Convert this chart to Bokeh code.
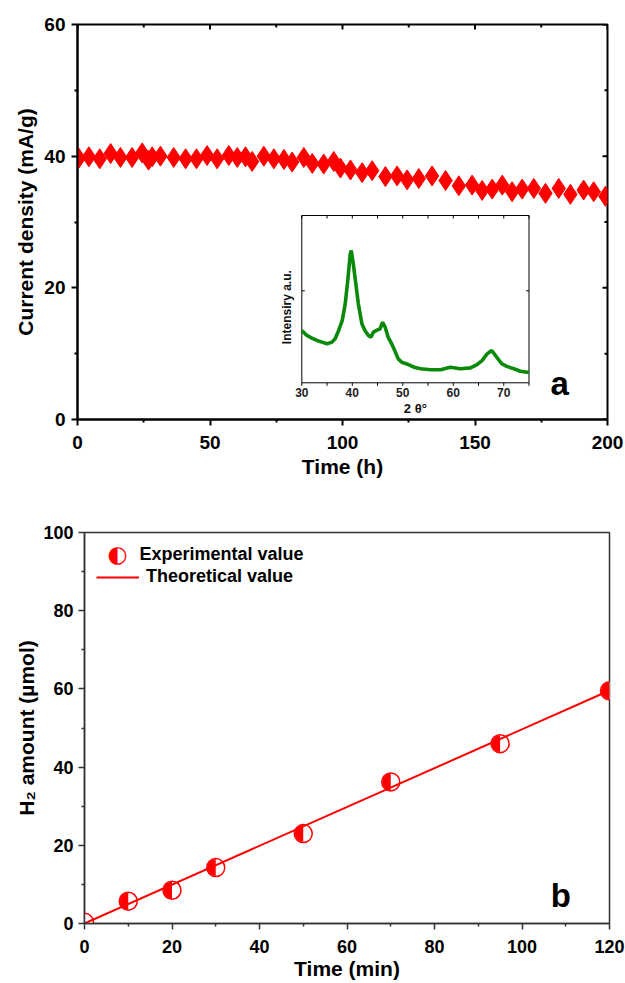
import math
from bokeh.plotting import figure
from bokeh.layouts import column, row
from bokeh.models import Range1d, FixedTicker, Label, Legend, LegendItem
from bokeh.core.properties import value
from bokeh.embed import file_html
from bokeh.resources import INLINE

FONT = "Liberation Sans"

# ---------------- panel a : stability test ----------------
time_h = [0.5, 4.3, 8.4, 12.5, 16.2, 20.6, 24.4, 26.8, 28.2, 31.3, 36.3, 40.8, 44.9,
          48.9, 52.7, 57.1, 60.3, 63.4, 65.9, 70.3, 74.1, 77.9, 81.0, 85.4, 88.6,
          92.9, 96.7, 99.2, 103.0, 107.4, 111.2, 116.2, 120.6, 124.4, 128.8, 133.8,
          138.9, 143.9, 148.9, 152.7, 156.5, 160.3, 164.0, 167.8, 172.2, 176.6,
          181.6, 186.0, 191.0, 194.8, 199.2]
current_density = [39.7, 39.9, 39.6, 40.4, 39.8, 39.8, 40.5, 39.4, 39.9, 40.0, 39.8,
                   39.6, 39.6, 40.1, 39.6, 40.1, 39.8, 39.9, 39.2, 40.0, 39.6, 39.5,
                   39.1, 39.8, 38.9, 38.8, 39.2, 38.2, 37.9, 37.5, 37.8, 36.9, 37.0,
                   36.4, 36.6, 37.0, 36.3, 35.5, 35.6, 34.8, 35.0, 35.6, 34.6, 35.0,
                   35.1, 34.35, 35.1, 34.2, 34.85, 34.6, 33.9]
a_xticks = [0, 50, 100, 150, 200]
a_xminor = [25, 75, 125, 175]
a_yticks = [0, 20, 40, 60]
a_yminor = [10, 30, 50]

# ---------------- inset : XRD pattern ----------------
two_theta = [30.0, 31.0, 32.0, 33.0, 34.0, 35.0, 36.0, 36.6, 37.3, 38.0, 38.6, 39.1,
             39.6, 39.8, 40.2, 40.7, 41.2, 41.9, 42.5, 43.2, 43.7, 44.2, 44.8, 45.5,
             46.0, 46.5, 47.1, 47.8, 48.4, 49.1, 49.8, 51.1, 52.3, 53.5, 55.5, 57.5,
             59.4, 61.4, 63.4, 64.7, 65.7, 66.7, 67.6, 68.6, 69.6, 70.6, 72.0, 73.3,
             74.6, 75.0]
intensity = [31.3, 28.3, 26.7, 25.3, 24.3, 23.3, 24.3, 26.3, 31.3, 37.2, 47.2, 61.1,
             77.1, 79.0, 71.1, 59.2, 47.2, 35.3, 31.3, 28.3, 27.3, 30.3, 31.3, 32.3,
             36.2, 33.3, 27.3, 23.3, 19.3, 14.3, 12.3, 10.9, 9.3, 8.4, 7.8, 7.8,
             9.3, 8.4, 8.9, 10.9, 13.3, 17.3, 19.3, 15.3, 11.4, 9.8, 8.4, 6.9,
             6.3, 6.5]
xrd_xlim = [30, 75]
xrd_ylim = [0, 100]
xrd_xticks = [30, 40, 50, 60, 70]
xrd_xminor = [35, 45, 55, 65, 75]
xrd_yticks = [55]

# ---------------- panel b : H2 evolution ----------------
time_min = [0, 10, 20, 30, 50, 70, 95, 120]
h2_exp = [0.3, 5.7, 8.5, 14.3, 23.0, 36.2, 46.0, 59.5]
theo_time = [0, 120]
theo_h2 = [0, 59.6]
b_xticks = [0, 20, 40, 60, 80, 100, 120]
b_xminor = [10, 30, 50, 70, 90, 110]
b_yticks = [0, 20, 40, 60, 80, 100]
b_yminor = [10, 30, 50, 70, 90]


def style_axis(ax, ticks, minor, color, lw, tick_size, label_size, standoff, lab_standoff):
    ax.ticker = FixedTicker(ticks=ticks, minor_ticks=minor)
    ax.axis_line_color = color
    ax.axis_line_width = lw
    ax.major_tick_line_color = color
    ax.major_tick_line_width = lw
    ax.minor_tick_line_color = color
    ax.minor_tick_line_width = lw
    ax.major_tick_out = 6
    ax.major_tick_in = 0
    ax.minor_tick_out = 3
    ax.minor_tick_in = 0
    ax.major_label_text_font = FONT
    ax.major_label_text_font_style = "bold"
    ax.major_label_text_font_size = tick_size
    ax.major_label_text_color = "black"
    ax.major_label_standoff = standoff
    ax.axis_label_text_font = FONT
    ax.axis_label_text_font_style = "bold"
    ax.axis_label_text_font_size = label_size
    ax.axis_label_text_color = "black"
    ax.axis_label_standoff = lab_standoff


# ================= figure a =================
FW1, FH1 = 530, 395
XR1, YR1 = (0, 200), (0, 60)
p1 = figure(width=625, height=480, x_range=Range1d(*XR1), y_range=Range1d(*YR1),
            output_backend="svg", toolbar_location=None,
            min_border_left=77, min_border_right=18, min_border_top=24, min_border_bottom=61,
            x_axis_label="Time (h)", y_axis_label="Current density (mA/g)")
p1.grid.visible = False
p1.outline_line_color = "black"
p1.outline_line_width = 2
style_axis(p1.xaxis[0], a_xticks, a_xminor, "black", 2, "19px", "21px", 10, 3)
style_axis(p1.yaxis[0], a_yticks, a_yminor, "black", 2, "19px", "21px", 6, 4)

# inward mirror ticks on the top and right frame edges
xpp = (XR1[1] - XR1[0]) / FW1
ypp = (YR1[1] - YR1[0]) / FH1
for ticks, ln in [(a_xticks, 5), (a_xminor, 3)]:
    p1.segment(x0=ticks, y0=[YR1[1]] * len(ticks), x1=ticks, y1=[YR1[1] - ln * ypp] * len(ticks),
               line_color="black", line_width=2)
for ticks, ln in [(a_yticks, 5), (a_yminor, 3)]:
    p1.segment(x0=[XR1[1]] * len(ticks), y0=ticks, x1=[XR1[1] - ln * xpp] * len(ticks), y1=ticks,
               line_color="black", line_width=2)

p1.scatter(time_h, current_density, marker="diamond", size=20,
           fill_color="#FF0000", line_color="#FF0000", line_width=1)

# inset placed in screen pixels inside the frame (left, right, bottom, top)
inset_px = (224.3, 451.5, 36.7, 204.0)
dpp = (xrd_xlim[1] - xrd_xlim[0]) / (inset_px[1] - inset_px[0])
upp = (xrd_ylim[1] - xrd_ylim[0]) / (inset_px[3] - inset_px[2])
p1.extra_x_ranges = {"xrd": Range1d(xrd_xlim[0] - inset_px[0] * dpp,
                                    xrd_xlim[1] + (FW1 - inset_px[1]) * dpp)}
p1.extra_y_ranges = {"xrdy": Range1d(xrd_ylim[0] - inset_px[2] * upp,
                                     xrd_ylim[1] + (FH1 - inset_px[3]) * upp)}
R = dict(x_range_name="xrd", y_range_name="xrdy")

p1.quad(left=[xrd_xlim[0]], right=[xrd_xlim[1]], bottom=[xrd_ylim[0]], top=[xrd_ylim[1]],
        fill_color="white", line_color="black", line_width=1, **R)
p1.line(two_theta, intensity, line_color="#0A8A0A", line_width=3.6, **R)

allx = xrd_xticks + xrd_xminor
tl = 3
p1.segment(x0=allx, y0=[xrd_ylim[0]] * len(allx), x1=allx, y1=[xrd_ylim[0] - tl * upp] * len(allx),
           line_color="black", line_width=1, **R)
p1.segment(x0=allx, y0=[xrd_ylim[1]] * len(allx), x1=allx, y1=[xrd_ylim[1] - tl * upp] * len(allx),
           line_color="black", line_width=1, **R)
p1.segment(x0=[xrd_xlim[0]] * len(xrd_yticks), y0=xrd_yticks,
           x1=[xrd_xlim[0] + tl * dpp] * len(xrd_yticks), y1=xrd_yticks,
           line_color="black", line_width=1, **R)
p1.segment(x0=[xrd_xlim[1]] * len(xrd_yticks), y0=xrd_yticks,
           x1=[xrd_xlim[1] - tl * dpp] * len(xrd_yticks), y1=xrd_yticks,
           line_color="black", line_width=1, **R)
p1.text(x=xrd_xticks, y=[xrd_ylim[0]] * len(xrd_xticks), text=[str(t) for t in xrd_xticks],
        text_font=value(FONT), text_font_style="bold", text_font_size="12px",
        text_color="#222222", text_align="center", text_baseline="middle", y_offset=10, **R)
p1.text(x=[sum(xrd_xlim) / 2], y=[xrd_ylim[0]], text=["2 θ°"],
        text_font=value(FONT), text_font_style="bold", text_font_size="13px",
        text_color="#111111", text_align="center", text_baseline="middle", y_offset=26, **R)
p1.text(x=[xrd_xlim[0]], y=[sum(xrd_ylim) / 2], text=["Intensiry a.u."], angle=math.pi / 2,
        text_font=value(FONT), text_font_style="bold", text_font_size="12px",
        text_color="#111111", text_align="center", text_baseline="middle",
        x_offset=-15, y_offset=8, **R)

p1.add_layout(Label(x=182, y=5.5, text="a", text_font=FONT, text_font_style="bold",
                    text_font_size="33px", text_align="center", text_baseline="alphabetic",
                    text_color="black"))

# ================= figure b =================
p2 = figure(width=625, height=503, x_range=Range1d(0, 120), y_range=Range1d(0, 100),
            output_backend="svg", toolbar_location=None,
            min_border_left=84, min_border_right=16, min_border_top=52, min_border_bottom=60,
            x_axis_label="Time (min)", y_axis_label="H₂ amount (µmol)")
p2.grid.visible = False
p2.outline_line_color = "#333333"
p2.outline_line_width = 1.5
style_axis(p2.xaxis[0], b_xticks, b_xminor, "#333333", 1.5, "18px", "21px", 10, 1)
style_axis(p2.yaxis[0], b_yticks, b_yminor, "#333333", 1.5, "18px", "21px", 5, 2)

p2.scatter(time_min, h2_exp, marker="circle", size=18, fill_color="white",
           line_color="#FF0000", line_width=1.5)
p2.wedge(x=time_min, y=h2_exp, radius=8.5, radius_units="screen",
         start_angle=math.pi / 2, end_angle=3 * math.pi / 2,
         fill_color="#FF0000", line_color=None)
theo = p2.line(theo_time, theo_h2, line_color="#FF0000", line_width=2)

legend = Legend(items=[LegendItem(label="Theoretical value", renderers=[theo])],
                location=(12, 336), glyph_width=43, glyph_height=20, label_height=20,
                label_standoff=7, padding=0, margin=0, spacing=0,
                border_line_color=None, background_fill_alpha=0,
                label_text_font=FONT, label_text_font_style="bold",
                label_text_font_size="18px", label_text_color="black")
p2.add_layout(legend)
p2.add_layout(Label(x=33, y=370, x_units="screen", y_units="screen", text="◐",
                    text_color="#FF0000", text_font="DejaVu Sans", text_font_size="23px",
                    text_align="center", text_baseline="middle"))
p2.add_layout(Label(x=55, y=370, x_units="screen", y_units="screen", text="Experimental value",
                    text_color="black", text_font=FONT, text_font_style="bold",
                    text_font_size="18px", text_align="left", text_baseline="middle"))
p2.add_layout(Label(x=108.9, y=7.2, text="b", text_font=FONT, text_font_style="bold",
                    text_font_size="33px", text_align="center", text_baseline="alphabetic",
                    text_color="black"))

# wrap each figure separately so that their frames are not aligned to each other
layout = column(row(p1), row(p2))
open("out.html", "w").write(file_html(layout, INLINE))
